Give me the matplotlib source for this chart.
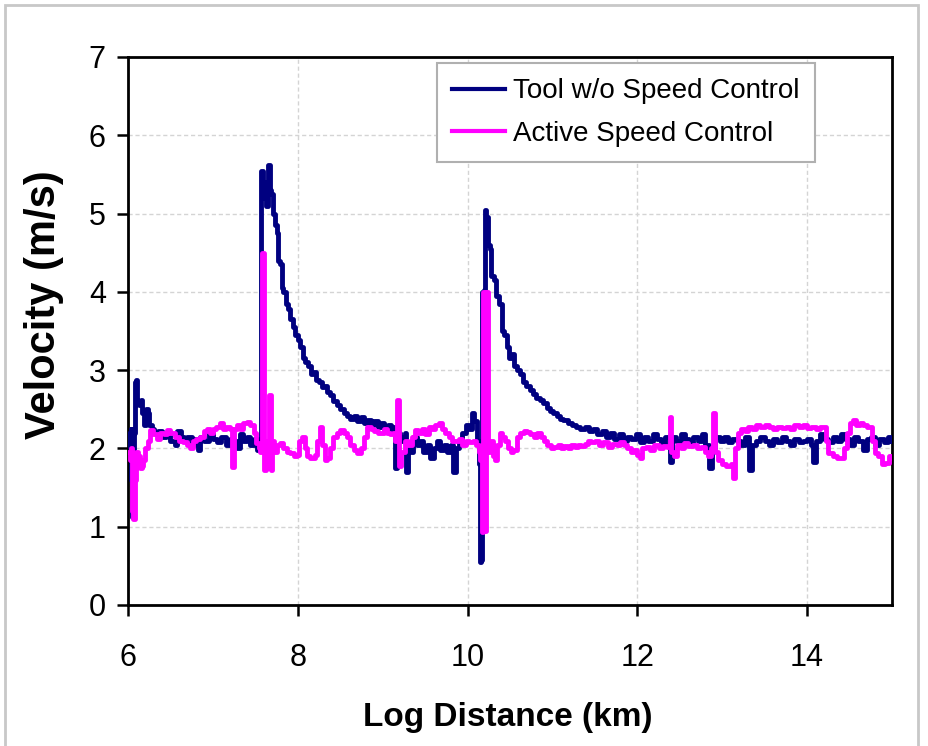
import matplotlib
matplotlib.use("Agg")
import matplotlib.pyplot as plt
from matplotlib.patches import Rectangle

# ---- data ----
dist_tool = [6.00, 6.01, 6.02, 6.03, 6.04, 6.05, 6.06, 6.07, 6.08, 6.09, 6.10, 6.11, 6.13, 6.15, 6.17, 6.19,
             6.21, 6.23, 6.25, 6.28, 6.31, 6.35, 6.40, 6.45, 6.50, 6.55, 6.58, 6.62, 6.66, 6.70, 6.75, 6.78,
             6.82, 6.85, 6.90, 6.95, 7.00, 7.05, 7.10, 7.15, 7.20, 7.25, 7.28, 7.32, 7.36, 7.40, 7.44, 7.48,
             7.52, 7.55, 7.57, 7.59, 7.61, 7.63, 7.65, 7.67, 7.69, 7.71, 7.73, 7.75, 7.77, 7.79, 7.81, 7.83,
             7.86, 7.89, 7.91, 7.94, 7.97, 8.00, 8.03, 8.06, 8.09, 8.12, 8.15, 8.18, 8.21, 8.25, 8.28, 8.31,
             8.34, 8.38, 8.42, 8.46, 8.50, 8.54, 8.58, 8.62, 8.66, 8.70, 8.74, 8.78, 8.82, 8.86, 8.90, 8.94,
             8.98, 9.02, 9.06, 9.10, 9.13, 9.15, 9.17, 9.20, 9.23, 9.26, 9.28, 9.30, 9.33, 9.36, 9.40, 9.44,
             9.48, 9.52, 9.56, 9.60, 9.64, 9.68, 9.72, 9.76, 9.80, 9.83, 9.86, 9.90, 9.94, 9.98, 10.02, 10.05,
             10.08, 10.11, 10.13, 10.15, 10.16, 10.17, 10.19, 10.20, 10.22, 10.24, 10.26, 10.28, 10.31, 10.34,
             10.37, 10.40, 10.43, 10.46, 10.49, 10.52, 10.55, 10.58, 10.62, 10.65, 10.69, 10.73, 10.77, 10.81,
             10.85, 10.89, 10.93, 10.97, 11.01, 11.05, 11.09, 11.13, 11.18, 11.23, 11.28, 11.33, 11.38, 11.43,
             11.48, 11.53, 11.58, 11.63, 11.68, 11.73, 11.78, 11.83, 11.88, 11.93, 11.98, 12.03, 12.08, 12.13,
             12.18, 12.23, 12.28, 12.33, 12.38, 12.41, 12.46, 12.51, 12.56, 12.61, 12.66, 12.71, 12.76, 12.80,
             12.85, 12.88, 12.92, 12.97, 13.02, 13.07, 13.12, 13.17, 13.22, 13.27, 13.32, 13.35, 13.40, 13.45,
             13.50, 13.55, 13.60, 13.65, 13.70, 13.75, 13.80, 13.85, 13.90, 13.95, 14.00, 14.05, 14.07, 14.10,
             14.15, 14.20, 14.25, 14.30, 14.35, 14.40, 14.45, 14.50, 14.55, 14.60, 14.66, 14.70, 14.75, 14.80,
             14.85, 14.90, 14.95, 15.00]
vel_tool = [2.05, 2.20, 2.00, 2.25, 1.60, 1.12, 1.15, 2.20, 2.85, 2.80, 2.88, 2.60, 2.55, 2.62, 2.45, 2.30,
            2.50, 2.45, 2.30, 2.25, 2.20, 2.22, 2.15, 2.20, 2.10, 2.05, 2.22, 2.15, 2.10, 2.15, 2.05, 2.12,
            1.98, 2.15, 2.10, 2.20, 2.12, 2.08, 2.15, 2.05, 2.12, 2.10, 2.00, 2.18, 2.10, 2.15, 2.05, 2.12,
            1.98, 2.00, 5.55, 5.20, 5.40, 5.10, 5.62, 5.30, 5.25, 5.00, 4.85, 4.75, 4.40, 4.35, 4.05, 4.00,
            3.85, 3.78, 3.65, 3.55, 3.45, 3.38, 3.30, 3.15, 3.10, 3.05, 2.95, 2.98, 2.88, 2.85, 2.78, 2.80,
            2.72, 2.68, 2.60, 2.55, 2.50, 2.45, 2.42, 2.38, 2.42, 2.35, 2.40, 2.32, 2.36, 2.30, 2.35, 2.28,
            2.32, 2.25, 2.30, 2.22, 2.28, 1.75, 2.20, 2.15, 2.10, 2.20, 1.70, 2.05, 1.95, 2.15, 2.05, 2.10,
            1.95, 2.05, 1.88, 2.00, 2.10, 1.98, 2.05, 1.95, 2.05, 1.70, 2.00, 2.10, 2.20, 2.30, 2.25, 2.45,
            2.35, 2.10, 1.80, 0.55, 0.58, 4.00, 4.02, 5.05, 4.95, 4.60, 4.55, 4.20, 4.15, 3.95,
            3.85, 3.50, 3.45, 3.30, 3.15, 3.20, 3.05, 3.00, 2.95, 2.85, 2.80, 2.75, 2.70, 2.65,
            2.62, 2.58, 2.52, 2.48, 2.45, 2.42, 2.38, 2.36, 2.32, 2.30, 2.28, 2.25, 2.27, 2.22,
            2.25, 2.18, 2.22, 2.15, 2.20, 2.12, 2.18, 2.10, 2.15, 2.12, 2.18, 2.08, 2.15, 2.10,
            2.18, 2.12, 2.05, 2.15, 1.83, 2.15, 2.10, 2.18, 2.12, 2.05, 2.15, 2.10, 2.18, 2.05,
            1.75, 2.00, 2.15, 2.10, 2.15, 2.08, 2.12, 2.10, 2.05, 2.15, 1.72, 2.05, 2.10, 2.15,
            2.10, 2.05, 2.12, 2.08, 2.15, 2.10, 2.05, 2.12, 2.08, 2.10, 2.12, 2.05, 1.83, 2.10,
            2.18, 2.12, 2.08, 2.15, 2.10, 2.18, 2.12, 2.05, 2.15, 2.10, 1.98, 2.12, 2.15, 2.05,
            2.12, 2.08, 2.15, 2.10]

dist_active = [6.00, 6.02, 6.03, 6.05, 6.06, 6.08, 6.10, 6.12, 6.14, 6.16, 6.18, 6.20, 6.23, 6.26, 6.30, 6.34,
               6.38, 6.42, 6.46, 6.50, 6.55, 6.60, 6.65, 6.70, 6.73, 6.76, 6.80, 6.85, 6.90, 6.93, 6.97, 7.00,
               7.04, 7.08, 7.12, 7.16, 7.20, 7.23, 7.25, 7.28, 7.32, 7.36, 7.40, 7.44, 7.48, 7.51, 7.54, 7.56,
               7.58, 7.60, 7.62, 7.64, 7.66, 7.68, 7.70, 7.72, 7.75, 7.79, 7.83, 7.87, 7.91, 7.95, 7.99, 8.02,
               8.05, 8.08, 8.11, 8.14, 8.17, 8.20, 8.23, 8.26, 8.29, 8.32, 8.35, 8.38, 8.42, 8.46, 8.50, 8.54,
               8.58, 8.62, 8.66, 8.70, 8.74, 8.78, 8.82, 8.86, 8.90, 8.94, 8.97, 9.01, 9.05, 9.09, 9.12, 9.15,
               9.17, 9.19, 9.22, 9.26, 9.30, 9.34, 9.38, 9.42, 9.46, 9.50, 9.54, 9.58, 9.62, 9.66, 9.70, 9.74,
               9.78, 9.82, 9.86, 9.90, 9.94, 9.98, 10.02, 10.06, 10.10, 10.13, 10.15, 10.17, 10.18, 10.20,
               10.22, 10.24, 10.27, 10.30, 10.32, 10.35, 10.38, 10.41, 10.44, 10.48, 10.51, 10.54, 10.58, 10.62,
               10.66, 10.70, 10.74, 10.78, 10.82, 10.86, 10.90, 10.94, 10.98, 11.02, 11.06, 11.10, 11.14, 11.18,
               11.22, 11.26, 11.30, 11.34, 11.38, 11.42, 11.46, 11.50, 11.55, 11.60, 11.65, 11.70, 11.76, 11.80,
               11.84, 11.88, 11.92, 11.96, 12.00, 12.03, 12.06, 12.10, 12.15, 12.20, 12.25, 12.30, 12.35, 12.38,
               12.40, 12.43, 12.47, 12.51, 12.55, 12.60, 12.65, 12.70, 12.75, 12.80, 12.83, 12.87, 12.89, 12.91,
               12.95, 13.00, 13.05, 13.10, 13.13, 13.15, 13.18, 13.22, 13.27, 13.30, 13.35, 13.40, 13.45, 13.50,
               13.55, 13.60, 13.65, 13.70, 13.75, 13.80, 13.85, 13.90, 13.95, 14.00, 14.05, 14.10, 14.15, 14.19,
               14.22, 14.25, 14.30, 14.35, 14.40, 14.44, 14.47, 14.50, 14.54, 14.58, 14.62, 14.66, 14.70, 14.74,
               14.77, 14.80, 14.84, 14.88, 14.92, 14.96, 15.00]
vel_active = [1.95, 1.85, 2.00, 1.20, 1.10, 1.60, 1.95, 1.90, 1.75, 1.78, 1.85, 2.00, 2.10, 2.23, 2.18, 2.12,
              2.20, 2.18, 2.23, 2.20, 2.15, 2.10, 2.08, 2.05, 2.00, 2.10, 2.12, 2.15, 2.22, 2.25, 2.20, 2.25,
              2.28, 2.32, 2.25, 2.28, 2.25, 1.76, 2.25, 2.30, 2.25, 2.32, 2.34, 2.30, 2.20, 2.07, 2.00, 1.95,
              4.50, 1.72, 2.10, 1.75, 2.68, 1.72, 2.10, 1.95, 2.05, 2.07, 2.00, 1.95, 1.94, 1.90, 1.92, 2.10,
              2.15, 2.00, 1.90, 1.88, 1.88, 1.92, 2.10, 2.27, 2.05, 1.85, 1.88, 2.00, 2.15, 2.20, 2.23, 2.20,
              2.15, 2.05, 1.98, 1.94, 2.00, 2.15, 2.27, 2.25, 2.22, 2.20, 2.20, 2.25, 2.20, 2.18, 2.20, 2.10,
              2.62, 1.78, 1.95, 2.10, 2.05, 2.15, 2.23, 2.20, 2.25, 2.18, 2.28, 2.25, 2.30, 2.32, 2.25, 2.20,
              2.15, 2.10, 2.09, 2.12, 2.05, 2.10, 2.08, 2.10, 2.05, 1.95, 1.85, 0.93, 4.00, 0.95,
              4.00, 1.95, 2.10, 1.90, 1.85, 2.05, 2.20, 2.15, 2.10, 2.00, 1.95, 1.98, 2.15, 2.20,
              2.22, 2.21, 2.18, 2.15, 2.20, 2.15, 2.10, 2.05, 2.00, 2.02, 2.05, 2.00, 2.03, 2.00,
              2.05, 2.02, 2.05, 2.03, 2.06, 2.10, 2.08, 2.10, 2.05, 2.08, 2.02, 2.06, 2.04, 2.08,
              2.04, 2.00, 1.96, 1.98, 1.92, 1.88, 2.00, 2.02, 1.98, 2.05, 2.00, 2.03, 2.02, 2.40,
              1.95, 1.90, 2.05, 2.00, 2.07, 2.03, 2.05, 2.00, 2.02, 1.95, 1.90, 2.00, 2.45, 1.95,
              1.85, 1.80, 1.77, 1.80, 1.62, 2.00, 2.20, 2.25, 2.22, 2.28, 2.25, 2.30, 2.27, 2.30,
              2.28, 2.25, 2.27, 2.26, 2.28, 2.25, 2.30, 2.27, 2.30, 2.26, 2.28, 2.25, 2.28, 2.27,
              2.10, 1.94, 1.90, 1.88, 1.88, 2.00, 2.20, 2.32, 2.36, 2.30, 2.32, 2.30, 2.28, 2.27,
              2.10, 1.94, 1.90, 1.80, 1.82, 1.90, 1.88]

series_labels = ["Tool w/o Speed Control", "Active Speed Control"]
x_ticks = [6, 8, 10, 12, 14]
y_ticks = [0, 1, 2, 3, 4, 5, 6, 7]

plt.rcParams['font.family'] = ['Liberation Sans', 'DejaVu Sans']

fig = plt.figure(figsize=(9.29, 7.46), dpi=100)
W, H = 929, 746
# outer chart frame
fig.patches.append(Rectangle((5 / W, -0.01), (918 - 5) / W, (H - 5) / H + 0.01,
                             transform=fig.transFigure, fill=False,
                             edgecolor='#c8c8c8', linewidth=2.0))

ax = fig.add_axes([128 / W, (H - 605) / H, (892 - 128) / W, (605 - 57) / H])

ax.plot(dist_tool, vel_tool, color='#000080', linewidth=3.5, drawstyle='steps-post',
        label=series_labels[0], zorder=3)
ax.plot(dist_active, vel_active, color='#FF00FF', linewidth=3.5, drawstyle='steps-post',
        label=series_labels[1], zorder=4)

ax.set_xlim(6, 15)
ax.set_ylim(0, 7)
ax.set_xticks(x_ticks)
ax.set_yticks(y_ticks)
ax.grid(True, color='#d4d4d4', linestyle=(0, (3, 2)), linewidth=1.0, zorder=0)
ax.set_axisbelow(True)

for s in ax.spines.values():
    s.set_linewidth(2.0)
    s.set_color('black')

ax.tick_params(axis='both', direction='out', length=8, width=1.8, labelsize=22, pad=8)
ax.tick_params(axis='x', pad=19)

ax.set_xlabel("Log Distance (km)", fontsize=24, fontweight='bold')
ax.xaxis.set_label_coords(0.497, -0.177)
ax.set_ylabel("Velocity (m/s)", fontsize=30, fontweight='bold')
ax.yaxis.set_label_coords(-0.084, 0.549)

leg = ax.legend(loc='upper left', bbox_to_anchor=(0.404, 0.989), fontsize=20,
                frameon=True, fancybox=False, edgecolor='#b0b0b0', framealpha=1,
                handlelength=1.9, handletextpad=0.3, labelspacing=0.6,
                borderpad=0.55, borderaxespad=0.0)
leg.get_frame().set_linewidth(1.5)
for line in leg.get_lines():
    line.set_linewidth(3.0)

fig.savefig("out.png", dpi=100)
